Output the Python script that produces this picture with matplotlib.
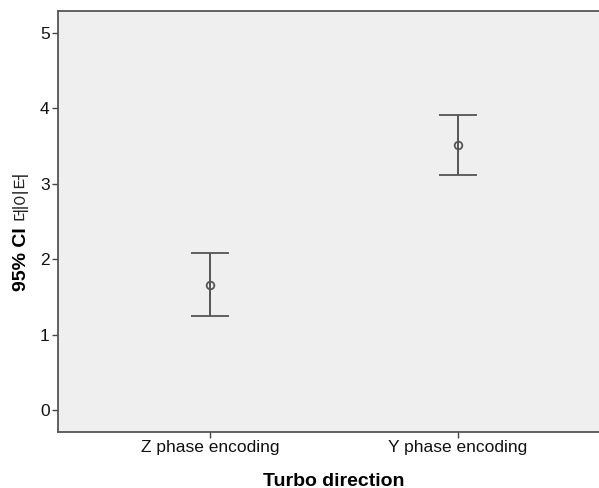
import matplotlib.pyplot as plt
import numpy as np

# 95% CI per turbo direction
groups = ['Z phase encoding', 'Y phase encoding']
means = [1.66, 3.51]
lower = [1.25, 3.12]
upper = [2.08, 3.91]
yticks = [0, 1, 2, 3, 4, 5]

fig = plt.figure(figsize=(5.99, 4.88), dpi=100)
ax = fig.add_axes([0.0968, 0.1148, 0.921, 0.8627])
ax.set_facecolor('#efefef')

x = np.arange(len(groups))
m = np.array(means)
err = [m - np.array(lower), np.array(upper) - m]
ax.errorbar(x, m, yerr=err, fmt='o', color='#555555', ecolor='#555555',
            elinewidth=1.4, capsize=13.5, capthick=1.4,
            markersize=5.5, markerfacecolor='none', markeredgewidth=1.3)

ax.set_xlim(-0.613, 1.613)
ax.set_ylim(-0.29, 5.29)
ax.set_xticks(x)
ax.set_xticklabels(groups, fontsize=12.5, family='Liberation Sans', color='#111111')
ax.set_yticks(yticks)
ax.set_yticklabels([str(v) for v in yticks], fontsize=12.5, family='Liberation Sans',
                   color='#111111')
ax.tick_params(axis='both', length=4, width=1, color='#444444', pad=2)

for s in ax.spines.values():
    s.set_color('#555555')
    s.set_linewidth(1.3)

fig.text(334/599, 1 - 481/488, 'Turbo direction', ha='center', va='center',
         fontsize=14, fontweight='bold', family='Liberation Sans')
fig.text(21/599, 1 - 291/488, '95% CI', rotation=90, ha='center', va='bottom',
         fontsize=14, fontweight='bold', family='Liberation Sans')
fig.text(21/599, 1 - 220/488, '데이터', rotation=90, ha='center', va='bottom',
         fontsize=13, family='Noto Sans CJK KR', color='#222222')

fig.savefig('out.png', dpi=100)
